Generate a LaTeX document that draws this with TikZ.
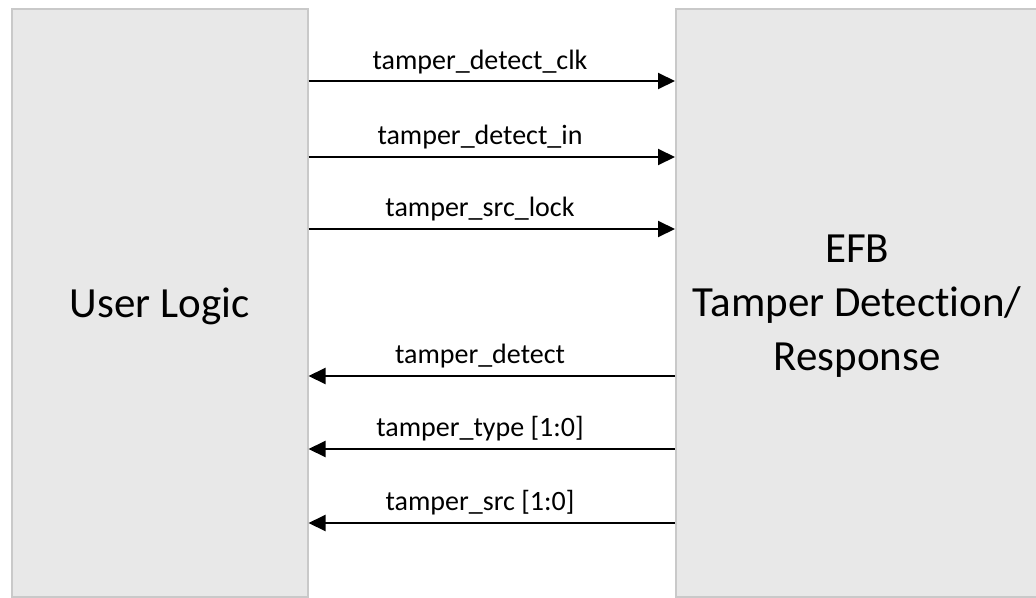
\documentclass[tikz,border=0pt]{standalone}
\usepackage{fontspec}
\setmainfont[Ligatures=NoCommon]{Carlito}
\usetikzlibrary{arrows.meta}
\definecolor{boxfill}{HTML}{E8E8E8}
\definecolor{boxborder}{HTML}{C9C9C9}
\begin{document}
\begin{tikzpicture}[x=1pt,y=-1pt,
  blk/.style={draw=boxborder, line width=1.5pt, fill=boxfill, inner sep=0pt,
    anchor=north west, font=\fontsize{43}{54}\selectfont, align=center, text depth=0pt},
  sig/.style={line width=2pt, -{Triangle[length=17pt,width=16pt]}},
  lbl/.style={font=\fontsize{28}{34}\selectfont, anchor=base, inner sep=0pt}]
\useasboundingbox (0,0) rectangle (1036,597);
\node[blk, minimum width=296pt, minimum height=588pt] (L) at (11,8) {User Logic};
\node[blk, minimum width=363pt, minimum height=588pt] (R) at (675,8) {EFB\\Tamper Detect\kern0pt ion/\\Response};
% signal rows
\coordinate (y1) at (0,81);
\coordinate (y2) at (0,157);
\coordinate (y3) at (0,229);
\coordinate (y4) at (0,376);
\coordinate (y5) at (0,449);
\coordinate (y6) at (0,523);
\draw[sig] (L.east |- y1) -- (R.west |- y1);
\draw[sig] (L.east |- y2) -- (R.west |- y2);
\draw[sig] (L.east |- y3) -- (R.west |- y3);
\draw[sig] (R.west |- y4) -- (L.east |- y4);
\draw[sig] (R.west |- y5) -- (L.east |- y5);
\draw[sig] (R.west |- y6) -- (L.east |- y6);
\node[lbl] (t1) at (480,69) {tamper\_detect\_clk};
\node[lbl] (t2) at (480,144) {tamper\_detect\_in};
\node[lbl] (t3) at (480,216) {tamper\_src\_lock};
\node[lbl] (t4) at (480,363) {tamper\_detect};
\node[lbl] (t5) at (480,436) {tamper\_type [1:0]};
\node[lbl] (t6) at (480,510) {tamper\_src [1:0]};
\end{tikzpicture}
\end{document}
